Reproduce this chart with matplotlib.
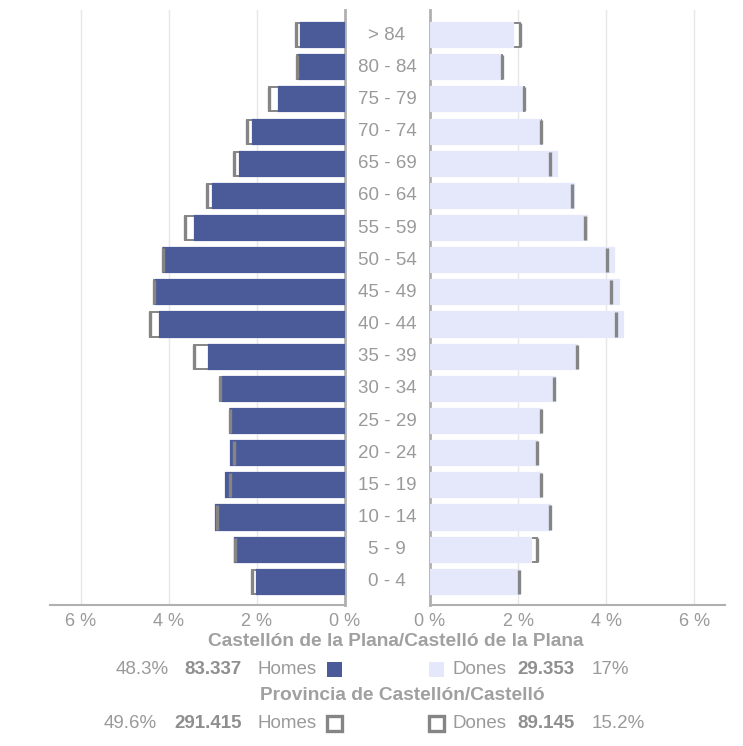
import matplotlib
matplotlib.use("Agg")
import matplotlib.pyplot as plt
from matplotlib.patches import Rectangle
from matplotlib.transforms import blended_transform_factory

plt.rcParams['font.family'] = ['Liberation Sans', 'DejaVu Sans']

ages = ['0 - 4', '5 - 9', '10 - 14', '15 - 19', '20 - 24', '25 - 29', '30 - 34',
        '35 - 39', '40 - 44', '45 - 49', '50 - 54', '55 - 59', '60 - 64',
        '65 - 69', '70 - 74', '75 - 79', '80 - 84', '> 84']

# Castellón de la Plana (%)
homes = [1.99, 2.50, 2.93, 2.70, 2.60, 2.58, 2.77, 3.10, 4.20, 4.30, 4.10,
         3.40, 3.00, 2.39, 2.09, 1.49, 1.05, 1.00]
dones = [2.01, 2.30, 2.73, 2.52, 2.42, 2.52, 2.84, 3.33, 4.38, 4.29, 4.19,
         3.56, 3.26, 2.88, 2.50, 2.08, 1.60, 1.89]

# Provincia (%)
homes_prov = [2.11, 2.49, 2.90, 2.61, 2.51, 2.62, 2.83, 3.44, 4.43, 4.34, 4.13,
              3.63, 3.13, 2.52, 2.22, 1.72, 1.10, 1.12]
dones_prov = [2.03, 2.44, 2.73, 2.52, 2.42, 2.52, 2.82, 3.33, 4.23, 4.12, 4.03,
              3.52, 3.23, 2.73, 2.52, 2.14, 1.63, 2.05]

ticks = [0, 2, 4, 6]
tick_labels = ['0 %', '2 %', '4 %', '6 %']

BLUE = '#4b5b9a'
LAV = '#e5e8fb'
EDGE = '#858585'
TXT = '#9a9a9a'
W, H = 743, 746

fig = plt.figure(figsize=(W / 100, H / 100), dpi=100)

def fx(px):
    return px / W

def fy(py):
    return 1 - py / H

axL = fig.add_axes([fx(50), fy(605), fx(345 - 50), fy(10) - fy(605)])
axR = fig.add_axes([fx(430), fy(605), fx(725 - 430), fy(10) - fy(605)])

y = list(range(len(ages)))
h = 0.75

for ax, vals, prov, col, sign in [(axL, homes, homes_prov, BLUE, -1),
                                  (axR, dones, dones_prov, LAV, 1)]:
    pv = [sign * v for v in prov]
    cv = [sign * v for v in vals]
    ax.barh(y, pv, height=h, color='white', edgecolor=EDGE, linewidth=1.4, zorder=2)
    ax.barh(y, cv, height=h, color=col, edgecolor=col, linewidth=1.6, zorder=3)
    ax.vlines(pv, [i - h / 2 for i in y], [i + h / 2 for i in y],
              color=EDGE, linewidth=2.4, zorder=4)
    ax.set_ylim(-0.72, 17.78)
    ax.set_yticks([])
    ax.set_xticks([sign * t for t in ticks])
    ax.set_xticklabels(tick_labels, color=TXT, fontsize=13)
    ax.tick_params(axis='x', length=0, pad=6)
    ax.grid(axis='x', color='#e6e6e6', linewidth=1, zorder=0)
    ax.set_axisbelow(True)
    for s in ax.spines.values():
        s.set_visible(False)
    ax.spines['bottom'].set_visible(True)
    ax.spines['bottom'].set_color('#b0b0b0')
    ax.spines['bottom'].set_linewidth(1.5)

axL.set_xlim(-6.7, 0)
axR.set_xlim(0, 6.7)
axL.spines['right'].set_visible(True)
axL.spines['right'].set_color('#b0b0b0')
axL.spines['right'].set_linewidth(2)
axR.spines['left'].set_visible(True)
axR.spines['left'].set_color('#b0b0b0')
axR.spines['left'].set_linewidth(2)

tr = blended_transform_factory(fig.transFigure, axL.transData)
for i, a in enumerate(ages):
    axL.text(fx(387), i, a, transform=tr, ha='center', va='center',
             fontsize=13.5, color=TXT, clip_on=False)

# legend block
fig.text(fx(396), fy(641), 'Castellón de la Plana/Castelló de la Plana',
         ha='center', va='center', fontsize=13.8, fontweight='bold', color='#a0a0a0')
fig.text(fx(402), fy(695), 'Provincia de Castellón/Castelló',
         ha='center', va='center', fontsize=13.8, fontweight='bold', color='#a0a0a0')

rows = [
    (669, 169, '48.3%', '83.337', '29.353', '17%',
     dict(facecolor=BLUE, edgecolor='none', lw=0), dict(facecolor=LAV, edgecolor='none', lw=0)),
    (723, 157, '49.6%', '291.415', '89.145', '15.2%',
     dict(facecolor='white', edgecolor=EDGE, lw=2.4), dict(facecolor='white', edgecolor=EDGE, lw=2.4)),
]
for py, pl_x, pl, nl, nr, pr, sq_l, sq_r in rows:
    fig.text(fx(pl_x), fy(py), pl, ha='right', va='center', fontsize=13.5, color=TXT)
    fig.text(fx(242), fy(py), nl, ha='right', va='center', fontsize=13.5,
             fontweight='bold', color='#8f8f8f')
    fig.text(fx(317), fy(py), 'Homes', ha='right', va='center', fontsize=13.5, color=TXT)
    fig.patches.append(Rectangle((fx(327), fy(py + 8)), fx(15), fy(py - 7) - fy(py + 8),
                                 transform=fig.transFigure, figure=fig, **sq_l))
    fig.patches.append(Rectangle((fx(429), fy(py + 8)), fx(15), fy(py - 7) - fy(py + 8),
                                 transform=fig.transFigure, figure=fig, **sq_r))
    fig.text(fx(452), fy(py), 'Dones', ha='left', va='center', fontsize=13.5, color=TXT)
    fig.text(fx(517), fy(py), nr, ha='left', va='center', fontsize=13.5,
             fontweight='bold', color='#8f8f8f')
    fig.text(fx(592), fy(py), pr, ha='left', va='center', fontsize=13.5, color=TXT)

fig.savefig('out.png', dpi=100, facecolor='white')
